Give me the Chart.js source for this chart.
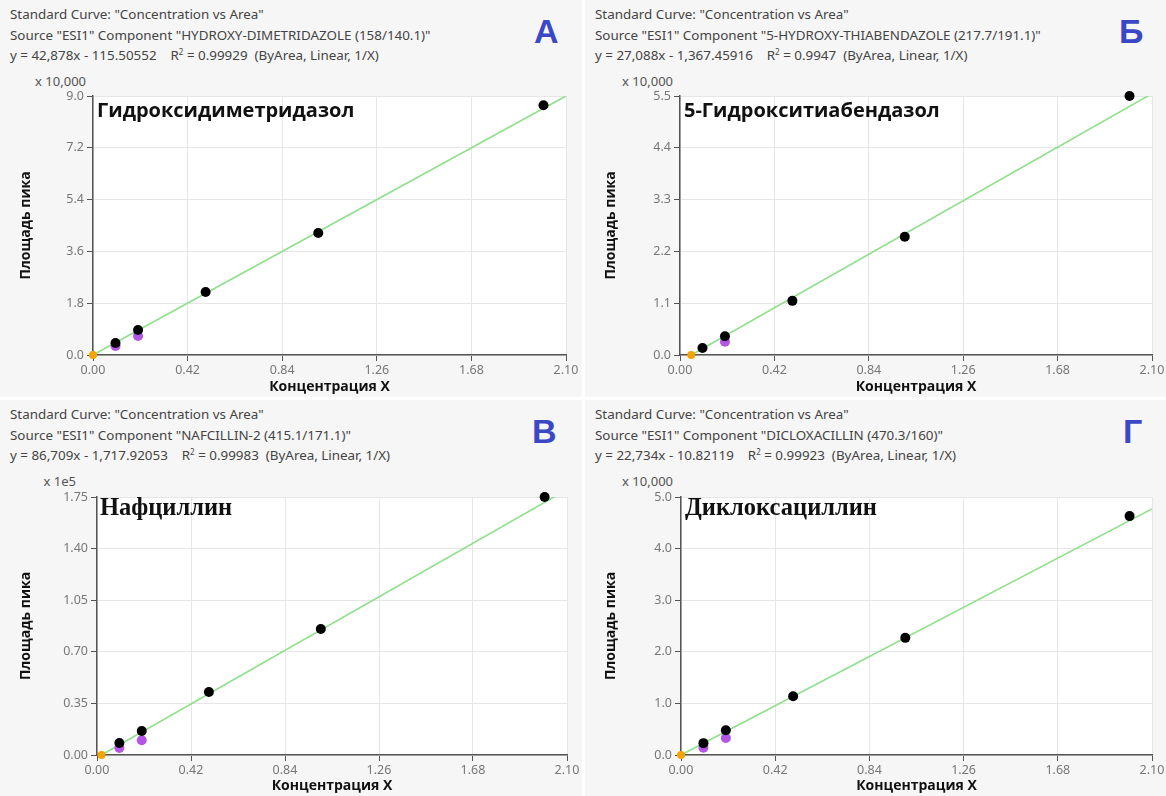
<!DOCTYPE html>
<html>
<head>
<meta charset="utf-8">
<script src="https://cdn.jsdelivr.net/npm/chart.js@4/dist/chart.umd.min.js"></script>
<style>
  html, body { margin: 0; padding: 0; background: #ffffff; }
  body { width: 1166px; height: 796px; position: relative; overflow: hidden; }
  .panel { position: absolute; width: 582px; height: 397px; background: #f6f6f6; }
  .panel canvas { position: absolute; left: 0; top: 0; }
  .head { position: absolute; left: 10px; top: 4px; font: 13.4px "Noto Sans", sans-serif; color: #444; line-height: 20.5px; white-space: nowrap; }
  .head sup { font-size: 8px; line-height: 0; vertical-align: 5px; }
  .letter { position: absolute; top: 12px; font: bold 34px "Liberation Sans", Arial, sans-serif; color: #3b48c6; }
  .mult { position: absolute; top: 72px; width: 80px; text-align: right; font: 13px "Noto Sans", sans-serif; color: #555; }
  .name { position: absolute; top: 96px; font-weight: bold; color: #111; white-space: nowrap; }
  .sans { font-family: "Open Sans", "Noto Sans", sans-serif; font-size: 20px; }
  .serif { font-family: "Liberation Serif", "DejaVu Serif", serif; font-size: 24.5px; top: 93px; }
</style>
</head>
<body>

<div class="panel" id="pA" style="left:0;top:0">
  <div class="head">Standard Curve: "Concentration vs Area"<br>Source "ESI1" Component "HYDROXY-DIMETRIDAZOLE (158/140.1)"<br>y = 42,878x - 115.50552&nbsp;&nbsp;&nbsp; R<sup>2</sup> = 0.99929&nbsp; (ByArea, Linear, 1/X)</div>
  <div class="letter" style="left:534px">A</div>
  <div class="mult" style="left:6px">x 10,000</div>
  <canvas id="chartA" width="582" height="397"></canvas>
  <div class="name sans" style="left:97px">Гидроксидиметридазол</div>
</div>

<div class="panel" id="pB" style="left:585px;top:0">
  <div class="head">Standard Curve: "Concentration vs Area"<br>Source "ESI1" Component "5-HYDROXY-THIABENDAZOLE (217.7/191.1)"<br>y = 27,088x - 1,367.45916&nbsp;&nbsp;&nbsp; R<sup>2</sup> = 0.9947&nbsp; (ByArea, Linear, 1/X)</div>
  <div class="letter" style="left:534px">Б</div>
  <div class="mult" style="left:8px">x 10,000</div>
  <canvas id="chartB" width="582" height="397"></canvas>
  <div class="name sans" style="left:99px">5-Гидрокситиабендазол</div>
</div>

<div class="panel" id="pV" style="left:0;top:400px">
  <div class="head">Standard Curve: "Concentration vs Area"<br>Source "ESI1" Component "NAFCILLIN-2 (415.1/171.1)"<br>y = 86,709x - 1,717.92053&nbsp;&nbsp;&nbsp; R<sup>2</sup> = 0.99983&nbsp; (ByArea, Linear, 1/X)</div>
  <div class="letter" style="left:532px">B</div>
  <div class="mult" style="left:-4px">x 1e5</div>
  <canvas id="chartV" width="582" height="396"></canvas>
  <div class="name serif" style="left:100px">Нафциллин</div>
</div>

<div class="panel" id="pG" style="left:585px;top:400px">
  <div class="head">Standard Curve: "Concentration vs Area"<br>Source "ESI1" Component "DICLOXACILLIN (470.3/160)"<br>y = 22,734x - 10.82119&nbsp;&nbsp;&nbsp; R<sup>2</sup> = 0.99923&nbsp; (ByArea, Linear, 1/X)</div>
  <div class="letter" style="left:538px">Г</div>
  <div class="mult" style="left:8px">x 10,000</div>
  <canvas id="chartG" width="582" height="396"></canvas>
  <div class="name serif" style="left:100px">Диклоксациллин</div>
</div>

<script>
// concentrations of the calibration levels
const conc = [0.1, 0.2, 0.5, 1.0, 2.0];
const xTicks = [0, 0.42, 0.84, 1.26, 1.68, 2.10];

// A - hydroxydimetridazole (x 10,000)
const areaA = [0.42, 0.87, 2.19, 4.24, 8.68];
const purpleConcA = [0.1, 0.2];
const purpleA = [0.31, 0.66];
const fitA = [[0, 0], [2.1, 9.0]];
const originA = [0, 0];
const yTicksA = [0, 1.8, 3.6, 5.4, 7.2, 9.0];

// Б - 5-hydroxythiabendazole (x 10,000)
const areaB = [0.15, 0.40, 1.15, 2.51, 5.50];
const purpleConcB = [0.2];
const purpleB = [0.28];
const fitB = [[0.05, 0], [2.1, 5.55]];
const originB = [0.05, 0];
const yTicksB = [0, 1.1, 2.2, 3.3, 4.4, 5.5];

// В - nafcillin (x 1e5)
const areaV = [0.081, 0.163, 0.427, 0.855, 1.75];
const purpleConcV = [0.1, 0.2];
const purpleV = [0.047, 0.10];
const fitV = [[0.02, 0], [2.1, 1.80]];
const originV = [0.02, 0];
const yTicksV = [0, 0.35, 0.70, 1.05, 1.40, 1.75];

// Г - dicloxacillin (x 10,000)
const areaG = [0.23, 0.48, 1.14, 2.27, 4.63];
const purpleConcG = [0.1, 0.2];
const purpleG = [0.14, 0.33];
const fitG = [[0, 0], [2.1, 4.77]];
const originG = [0, 0];
const yTicksG = [0, 1.0, 2.0, 3.0, 4.0, 5.0];

const toPts = (xs, ys) => xs.map((x, i) => ({ x: x, y: ys[i] }));

// white plot background
const plotBg = {
    id: 'plotBg',
    beforeDraw(chart) {
        const a = chart.chartArea;
        chart.ctx.save();
        chart.ctx.fillStyle = '#ffffff';
        chart.ctx.fillRect(a.left, a.top, a.right - a.left, a.bottom - a.top);
        chart.ctx.restore();
    }
};

function makeChart(id, o) {
    const H = document.getElementById(id).height;
    new Chart(document.getElementById(id), {
        type: 'scatter',
        data: {
            datasets: [
                { data: [{ x: o.origin[0], y: o.origin[1] }], backgroundColor: '#f5a300', borderWidth: 0, pointRadius: 4, clip: false },
                { data: toPts(conc, o.area), backgroundColor: '#000000', borderWidth: 0, pointRadius: 5, clip: false },
                { data: toPts(o.purpleConc, o.purple), backgroundColor: '#b455e6', borderWidth: 0, pointRadius: 5, clip: false },
                { type: 'line', data: o.fit.map(p => ({ x: p[0], y: p[1] })), borderColor: '#8fe08a', borderWidth: 1.6, pointRadius: 0, clip: 0 }
            ]
        },
        options: {
            responsive: false,
            animation: false,
            events: [],
            layout: { padding: { left: 0, right: 582 - o.right, top: o.top, bottom: 0 } },
            plugins: { legend: { display: false }, tooltip: { enabled: false } },
            scales: {
                x: {
                    type: 'linear', min: 0, max: 2.1,
                    afterBuildTicks: s => { s.ticks = xTicks.map(v => ({ value: v })); },
                    afterFit: s => { s.height = H - o.bottom; },
                    grid: { color: '#e6e6e6', tickColor: '#555', tickLength: 6 },
                    border: { color: '#555', width: 1.5 },
                    ticks: { color: '#777', font: { family: 'Noto Sans', size: 12.5 }, padding: 2, callback: v => v.toFixed(2) },
                    title: { display: true, text: 'Концентрация X', color: '#111', font: { family: 'Open Sans', size: 14, weight: 'bold' }, padding: { top: 0, bottom: 2 } }
                },
                y: {
                    type: 'linear', min: 0, max: o.yTicks[o.yTicks.length - 1],
                    afterBuildTicks: s => { s.ticks = o.yTicks.map(v => ({ value: v })); },
                    afterFit: s => { s.width = o.left; },
                    grid: { color: '#e6e6e6', tickColor: '#555', tickLength: 6 },
                    border: { color: '#555', width: 1.5 },
                    ticks: { color: '#777', font: { family: 'Noto Sans', size: 12.5 }, padding: 3, callback: v => v.toFixed(o.dec) },
                    title: { display: true, text: 'Площадь пика', color: '#111', font: { family: 'Open Sans', size: 14, weight: 'bold' }, padding: { top: 18, bottom: 0 } }
                }
            }
        },
        plugins: [plotBg]
    });
}

makeChart('chartA', { area: areaA, purpleConc: purpleConcA, purple: purpleA, fit: fitA, origin: originA, yTicks: yTicksA, dec: 1, left: 93, right: 566, top: 96, bottom: 355 });
makeChart('chartB', { area: areaB, purpleConc: purpleConcB, purple: purpleB, fit: fitB, origin: originB, yTicks: yTicksB, dec: 1, left: 95, right: 567, top: 96, bottom: 355 });
makeChart('chartV', { area: areaV, purpleConc: purpleConcV, purple: purpleV, fit: fitV, origin: originV, yTicks: yTicksV, dec: 2, left: 97, right: 567, top: 97, bottom: 355 });
makeChart('chartG', { area: areaG, purpleConc: purpleConcG, purple: purpleG, fit: fitG, origin: originG, yTicks: yTicksG, dec: 1, left: 96, right: 567, top: 97, bottom: 355 });
</script>
</body>
</html>
